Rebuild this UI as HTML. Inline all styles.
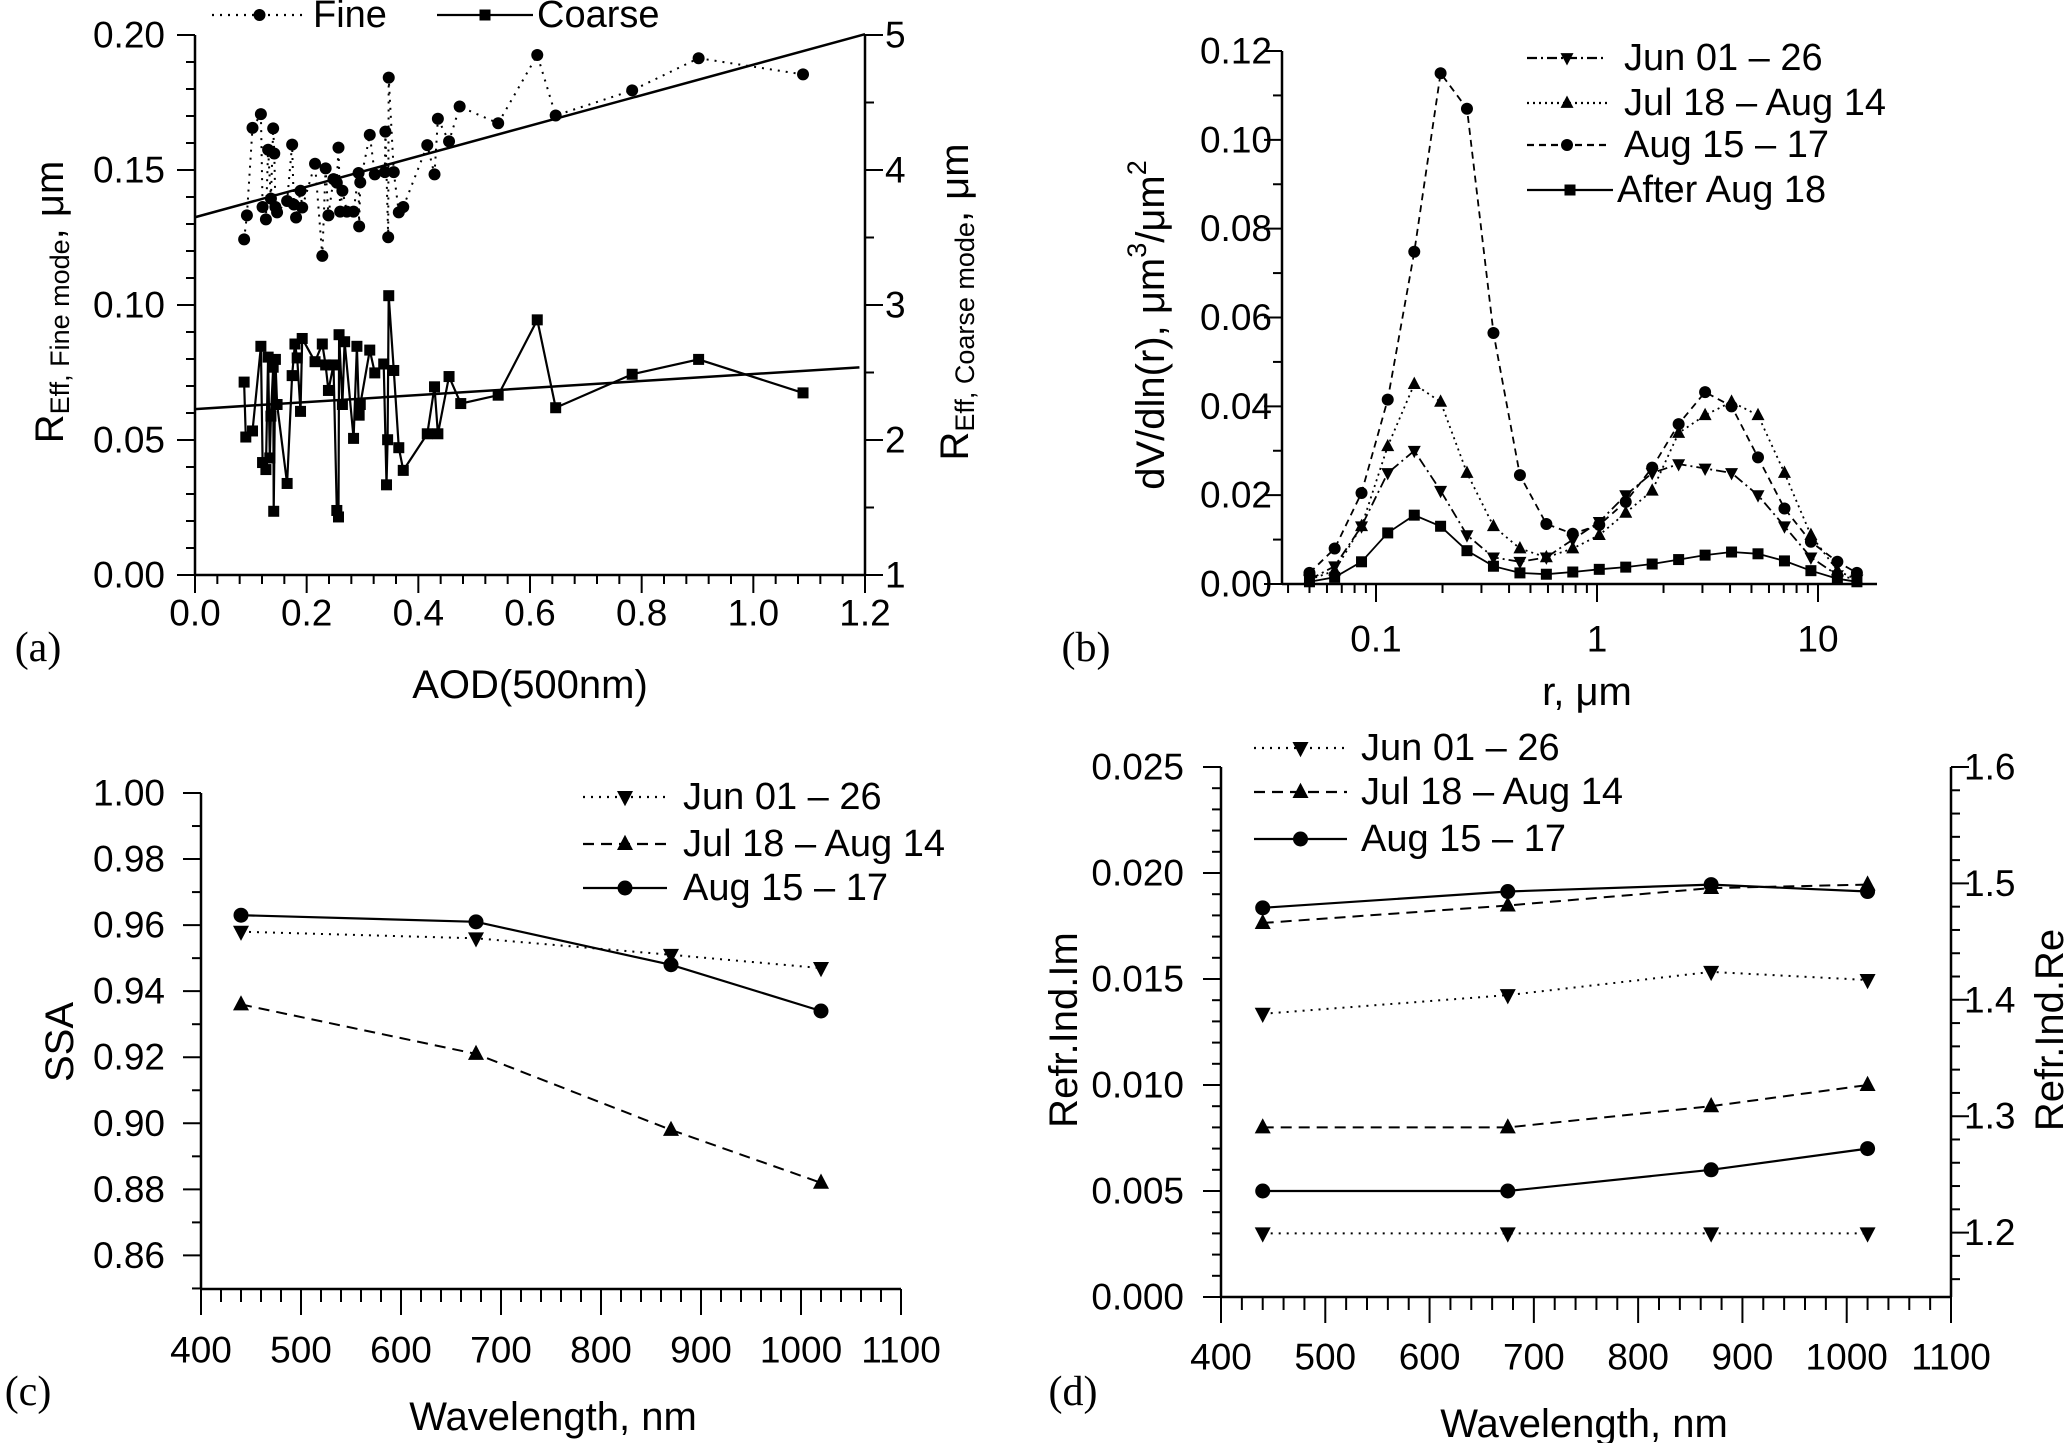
<!DOCTYPE html>
<html><head><meta charset="utf-8"><style>
html,body{margin:0;padding:0;background:#fff;}
svg{display:block;font-family:"Liberation Sans",Arial,sans-serif;}
</style></head><body>
<svg id="fig" width="2067" height="1443" viewBox="0 0 2067 1443" xmlns="http://www.w3.org/2000/svg"></svg>
<script>
// ---------- Panel (a) data ----------
const aodFine = [0.088,0.093,0.103,0.118,0.121,0.127,0.131,0.136,0.140,0.142,0.144,0.147,0.165,0.174,0.177,0.181,0.189,0.192,0.215,0.228,0.234,0.239,0.248,0.254,0.257,0.260,0.264,0.272,0.284,0.293,0.294,0.296,0.313,0.322,0.340,0.341,0.346,0.347,0.356,0.365,0.373,0.416,0.429,0.435,0.455,0.474,0.543,0.613,0.646,0.783,0.902,1.089];
const reffFine = [0.1243,0.1332,0.1656,0.1707,0.1363,0.1317,0.1575,0.1394,0.1654,0.1561,0.1363,0.1343,0.1385,0.1594,0.1372,0.1324,0.1423,0.1361,0.1523,0.1182,0.1506,0.1332,0.1466,0.1453,0.1583,0.1346,0.1423,0.1346,0.1346,0.1489,0.1291,0.1454,0.1630,0.1484,0.1492,0.1642,0.1251,0.1842,0.1492,0.1343,0.1363,0.1592,0.1484,0.1690,0.1606,0.1735,0.1673,0.1926,0.1702,0.1795,0.1914,0.1854];
const aodCoarse = [0.088,0.091,0.103,0.118,0.121,0.127,0.131,0.134,0.136,0.140,0.141,0.144,0.147,0.165,0.174,0.179,0.183,0.189,0.192,0.215,0.228,0.234,0.239,0.248,0.254,0.257,0.258,0.264,0.268,0.284,0.290,0.294,0.296,0.313,0.322,0.338,0.343,0.345,0.347,0.356,0.365,0.373,0.416,0.429,0.435,0.455,0.476,0.543,0.613,0.646,0.783,0.902,1.089];
const reffCoarse = [2.429,2.022,2.067,2.694,1.833,1.781,2.614,1.867,2.177,2.539,1.472,2.597,2.263,1.678,2.477,2.711,2.608,2.212,2.752,2.580,2.711,2.556,2.367,2.556,1.478,1.430,2.780,2.263,2.728,2.012,2.694,2.184,2.263,2.666,2.497,2.563,1.668,2.002,3.069,2.515,1.943,1.775,2.046,2.394,2.046,2.470,2.270,2.332,2.890,2.239,2.487,2.597,2.349];
const fitFine = [0.1325, 0.0565];
const fitCoarse = [2.229, 0.260];
const aXTicks = ["0.0","0.2","0.4","0.6","0.8","1.0","1.2"];
const aYTicks = ["0.00","0.05","0.10","0.15","0.20"];
const aY2Ticks = ["1","2","3","4","5"];

// ---------- Panel (b) data ----------
const radii = [0.050,0.065,0.086,0.113,0.149,0.196,0.258,0.340,0.448,0.590,0.777,1.024,1.349,1.777,2.341,3.084,4.063,5.352,7.051,9.288,12.236,15.000];
const psdJun = [0.001,0.004,0.013,0.025,0.030,0.021,0.011,0.006,0.005,0.006,0.010,0.014,0.020,0.025,0.027,0.026,0.025,0.020,0.013,0.006,0.002,0.001];
const psdJul = [0.001,0.003,0.013,0.031,0.045,0.041,0.025,0.013,0.008,0.006,0.008,0.011,0.016,0.021,0.034,0.038,0.041,0.038,0.025,0.011,0.003,0.001];
const psdAug = [0.0025,0.008,0.0205,0.0415,0.0748,0.115,0.107,0.0565,0.0245,0.0135,0.0113,0.0133,0.0185,0.0262,0.036,0.0432,0.040,0.0285,0.017,0.0095,0.005,0.0025];
const psdAfter = [0.0005,0.0015,0.005,0.0115,0.0155,0.013,0.0075,0.004,0.0025,0.0022,0.0027,0.0033,0.0038,0.0045,0.0055,0.0065,0.0072,0.0068,0.0052,0.003,0.0012,0.0005];
const bYTicks = ["0.00","0.02","0.04","0.06","0.08","0.10","0.12"];
const bXTicks = ["0.1","1","10"];

// ---------- Panel (c) data ----------
const wl = [440,675,870,1020];
const ssaJun = [0.958,0.956,0.951,0.947];
const ssaJul = [0.936,0.921,0.898,0.882];
const ssaAug = [0.963,0.961,0.948,0.934];
const wlTicks = ["400","500","600","700","800","900","1000","1100"];
const cYTicks = ["0.86","0.88","0.90","0.92","0.94","0.96","0.98","1.00"];

// ---------- Panel (d) data ----------
const imJun = [0.003,0.003,0.003,0.003];
const imJul = [0.008,0.008,0.009,0.010];
const imAug = [0.005,0.005,0.006,0.007];
const reJun = [1.388,1.404,1.424,1.417];
const reJul = [1.466,1.481,1.496,1.499];
const reAug = [1.479,1.493,1.499,1.493];
const dYTicks = ["0.000","0.005","0.010","0.015","0.020","0.025"];
const dY2Ticks = ["1.2","1.3","1.4","1.5","1.6"];

const NS = "http://www.w3.org/2000/svg";
const svg = document.getElementById('fig');
function mk(tag, attrs, name, parent){
  const el = document.createElementNS(NS, tag);
  for (const k in attrs) el.setAttribute(k, attrs[k]);
  
  
  (parent||svg).appendChild(el);
  return el;
}
function ln(x1,y1,x2,y2,name,w,dash,p){
  const a = {x1:x1,y1:y1,x2:x2,y2:y2,stroke:'#000','stroke-width':w||2.5};
  if (dash) a['stroke-dasharray']=dash;
  return mk('line',a,name,p);
}
function txt(x,y,s,name,size,anchor,extra,p){
  const a = {x:x,y:y,'font-size':size||37,'text-anchor':anchor||'middle','dominant-baseline':'central',fill:'#000'};
  if (extra) for (const k in extra) a[k]=extra[k];
  const t = mk('text',a,name,p); t.textContent = s; return t;
}
function marker(type,x,y,s,name,p){
  if (type==='circle') return mk('circle',{cx:x,cy:y,r:s,fill:'#000'},name,p);
  if (type==='square') return mk('rect',{x:x-s,y:y-s,width:2*s,height:2*s,fill:'#000'},name,p);
  if (type==='up') return mk('polygon',{points:`${x},${y-s*1.15} ${x-s},${y+s*0.75} ${x+s},${y+s*0.75}`,fill:'#000'},name,p);
  return mk('polygon',{points:`${x},${y+s*1.15} ${x-s},${y-s*0.75} ${x+s},${y-s*0.75}`,fill:'#000'},name,p);
}
function series(xs, ys, fx, fy, mtype, msize, dash, name, lw){
  const g = mk('g',{},name);
  let d = '';
  for (let i=0;i<xs.length;i++) d += (i?'L':'M') + fx(xs[i]).toFixed(1) + ',' + fy(ys[i]).toFixed(1);
  const pa = {d:d,fill:'none',stroke:'#000','stroke-width':lw||2.2};
  if (dash) pa['stroke-dasharray']=dash;
  mk('path',pa,name+'-line',g);
  for (let i=0;i<xs.length;i++) marker(mtype,fx(xs[i]),fy(ys[i]),msize,name+'-point',g);
  return g;
}
function legendEntry(x1,x2,y,mtype,msize,dash,label,tx,name){
  const g = mk('g',{},name);
  ln(x1,y,x2,y,name+'-line',2.2,dash,g);
  marker(mtype,(x1+x2)/2,y,msize,name+'-marker',g);
  txt(tx,y,label,name+'-label',38,'start',null,g);
}
const DOT='2,6', DASH='11,7', DASHDOT='10,4,2,4';

// ================= Panel (a) =================
const ax = v => 195 + v/1.2*670;
const ayF = v => 575 - v/0.2*540;
const ayC = v => 575 - (v-1)/4*540;
ln(195,35,195,575,'a-y-axis-left');
ln(865,35,865,575,'a-y-axis-right');
ln(195,575,865,575,'a-x-axis');
for (let i=0;i<=30;i++){ const v=i*0.04; const x=ax(v); const major=(i%5===0); ln(x,575,x,575+(major?18:9),'a-x-tick',2); }
aXTicks.forEach(s=>txt(ax(parseFloat(s)),613,s,'a-x-tick-label'));
for (let i=0;i<=20;i++){ const v=i*0.01; const y=ayF(v); const major=(i%5===0); ln(195,y,195-(major?18:9),y,'a-y-tick',2); }
aYTicks.forEach(s=>txt(165,ayF(parseFloat(s)),s,'a-y-tick-label',37,'end'));
for (let i=0;i<=8;i++){ const v=1+i*0.5; const y=ayC(v); const major=(i%2===0); ln(865,y,865+(major?18:9),y,'a-y2-tick',2); }
aY2Ticks.forEach(s=>txt(885,ayC(parseFloat(s)),s,'a-y2-tick-label',37,'start'));
{
  const t = mk('text',{x:0,y:0,'font-size':40,'text-anchor':'middle','dominant-baseline':'central',transform:'translate(50,302) rotate(-90)'},'a-y-axis-title');
  t.innerHTML = 'R<tspan font-size="27" dy="10">Eff, Fine mode</tspan><tspan dy="-10">, μm</tspan>';
  const t2 = mk('text',{x:0,y:0,'font-size':40,'text-anchor':'middle','dominant-baseline':'central',transform:'translate(955,302) rotate(-90)'},'a-y2-axis-title');
  t2.innerHTML = 'R<tspan font-size="27" dy="10">Eff, Coarse mode</tspan><tspan dy="-10">, μm</tspan>';
}
txt(530,685,'AOD(500nm)','a-x-axis-title',40);
txt(38,648,'(a)','a-panel-label',42,'middle',{'font-family':'"Liberation Serif",serif'});
ln(ax(0),ayF(fitFine[0]),ax(1.2),ayF(fitFine[0]+fitFine[1]*1.2),'a-fine-fit-line',2.5);
ln(ax(0),ayC(fitCoarse[0]),ax(1.19),ayC(fitCoarse[0]+fitCoarse[1]*1.19),'a-coarse-fit-line',2.5);
series(aodFine,reffFine,ax,ayF,'circle',6,DOT,'a-fine-series',2);
series(aodCoarse,reffCoarse,ax,ayC,'square',5.5,null,'a-coarse-series',2.2);
legendEntry(212,307,15,'circle',6,DOT,'Fine',313,'a-legend-fine');
legendEntry(437,533,15,'square',5.5,null,'Coarse',537,'a-legend-coarse');

// ================= Panel (b) =================
const bx = r => 1597 + Math.log10(r)*221;
const by = v => 584 - v/0.12*533;
ln(1282,51,1282,584,'b-y-axis');
ln(1282,584,1877,584,'b-x-axis');
for (let i=0;i<=12;i++){ const v=i*0.01; const y=by(v); const major=(i%2===0); ln(1282,y,1282-(major?18:9),y,'b-y-tick',2); }
bYTicks.forEach(s=>txt(1272,by(parseFloat(s)),s,'b-y-tick-label',37,'end'));
for (let e=-2;e<=1;e++){ for (let m=1;m<=9;m++){ const r=m*Math.pow(10,e); const x=bx(r); if (x<1282||x>1877) continue; ln(x,584,x,584+(m===1?18:9),'b-x-tick',2);} }
bXTicks.forEach(s=>txt(bx(parseFloat(s)),639,s,'b-x-tick-label'));
{
  const t = mk('text',{x:0,y:0,'font-size':40,'text-anchor':'middle','dominant-baseline':'central',transform:'translate(1151,325) rotate(-90)'},'b-y-axis-title');
  t.innerHTML = 'dV/dln(r), μm<tspan font-size="27" dy="-14">3</tspan><tspan dy="14">/μm</tspan><tspan font-size="27" dy="-14">2</tspan>';
}
txt(1587,692,'r, μm','b-x-axis-title',40);
txt(1086,648,'(b)','b-panel-label',42,'middle',{'font-family':'"Liberation Serif",serif'});
series(radii,psdJun,bx,by,'down',6.5,DASHDOT,'b-jun-series',1.8);
series(radii,psdJul,bx,by,'up',6.5,'2,4','b-jul-series',1.8);
series(radii,psdAug,bx,by,'circle',6,'7,5','b-aug15-series',1.8);
series(radii,psdAfter,bx,by,'square',5.5,null,'b-after-series',1.8);
legendEntry(1527,1607,58,'down',6.5,DASHDOT,'Jun 01 – 26',1624,'b-legend-jun');
legendEntry(1527,1607,103,'up',6.5,'2,4','Jul 18 – Aug 14',1624,'b-legend-jul');
legendEntry(1527,1607,145,'circle',6,'7,5','Aug 15 – 17',1624,'b-legend-aug15');
legendEntry(1527,1613,190,'square',5.5,null,'After Aug 18',1617,'b-legend-after');

// ================= Panel (c) =================
const cx = w => 201 + (w-400);
const cy = v => 793 + (1-v)*3303;
ln(201,793,201,1289,'c-y-axis');
ln(201,1289,901,1289,'c-x-axis');
for (let i=0;i<=35;i++){ const w=400+i*20; const x=cx(w); const major=(i%5===0); ln(x,1289,x,1289+(major?26:13),'c-x-tick',2); }
wlTicks.forEach(s=>txt(cx(parseFloat(s)),1350,s,'c-x-tick-label'));
for (let i=0;i<=15;i++){ const v=0.85+i*0.01; const y=cy(v); const major=(i%2===1); ln(201,y,201-(major?18:9),y,'c-y-tick',2); }
cYTicks.forEach(s=>txt(165,cy(parseFloat(s)),s,'c-y-tick-label',37,'end'));
txt(0,0,'SSA','c-y-axis-title',40,'middle',{transform:'translate(60,1042) rotate(-90)'});
txt(553,1417,'Wavelength, nm','c-x-axis-title',40);
txt(28,1392,'(c)','c-panel-label',42,'middle',{'font-family':'"Liberation Serif",serif'});
series(wl,ssaJun,cx,cy,'down',8,DOT,'c-jun-series',2);
series(wl,ssaJul,cx,cy,'up',8,DASH,'c-jul-series',2);
series(wl,ssaAug,cx,cy,'circle',7.5,null,'c-aug15-series',2.2);
legendEntry(583,667,797,'down',8,DOT,'Jun 01 – 26',683,'c-legend-jun');
legendEntry(583,667,844,'up',8,DASH,'Jul 18 – Aug 14',683,'c-legend-jul');
legendEntry(583,667,888,'circle',7.5,null,'Aug 15 – 17',683,'c-legend-aug15');

// ================= Panel (d) =================
const dx = w => 1221 + (w-400)*730/700;
const dyL = v => 1297 - v/0.025*530;
const dyR = v => 767 + (1.6-v)*1164;
ln(1221,767,1221,1297,'d-y-axis-left');
ln(1951,767,1951,1297,'d-y-axis-right');
ln(1221,1297,1951,1297,'d-x-axis');
for (let i=0;i<=35;i++){ const w=400+i*20; const x=dx(w); const major=(i%5===0); ln(x,1297,x,1297+(major?26:13),'d-x-tick',2); }
wlTicks.forEach(s=>txt(dx(parseFloat(s)),1357,s,'d-x-tick-label'));
for (let i=0;i<=25;i++){ const v=i*0.001; const y=dyL(v); const major=(i%5===0); ln(1221,y,1221-(major?18:9),y,'d-y-tick',2); }
dYTicks.forEach(s=>txt(1184,dyL(parseFloat(s)),s,'d-y-tick-label',37,'end'));
for (let i=0;i<=22;i++){ const v=1.16+i*0.02; const y=dyR(v); if (y>1297) continue; const major=(Math.abs((v*10)-Math.round(v*10))<1e-6); ln(1951,y,1951+(major?18:9),y,'d-y2-tick',2); }
dY2Ticks.forEach(s=>txt(1964,dyR(parseFloat(s)),s,'d-y2-tick-label',37,'start'));
txt(0,0,'Refr.Ind.Im','d-y-axis-title',40,'middle',{transform:'translate(1064,1030) rotate(-90)'});
txt(0,0,'Refr.Ind.Re','d-y2-axis-title',40,'middle',{transform:'translate(2050,1030) rotate(-90)'});
txt(1584,1424,'Wavelength, nm','d-x-axis-title',40);
txt(1073,1392,'(d)','d-panel-label',42,'middle',{'font-family':'"Liberation Serif",serif'});
series(wl,imJun,dx,dyL,'down',8,DOT,'d-jun-im-series',2);
series(wl,imJul,dx,dyL,'up',8,DASH,'d-jul-im-series',2);
series(wl,imAug,dx,dyL,'circle',7.5,null,'d-aug15-im-series',2.2);
series(wl,reJun,dx,dyR,'down',8,DOT,'d-jun-re-series',2);
series(wl,reJul,dx,dyR,'up',8,DASH,'d-jul-re-series',2);
series(wl,reAug,dx,dyR,'circle',7.5,null,'d-aug15-re-series',2.2);
legendEntry(1254,1347,748,'down',8,DOT,'Jun 01 – 26',1361,'d-legend-jun');
legendEntry(1254,1347,792,'up',8,DASH,'Jul 18 – Aug 14',1361,'d-legend-jul');
legendEntry(1254,1347,839,'circle',7.5,null,'Aug 15 – 17',1361,'d-legend-aug15');
</script>
</body></html>
